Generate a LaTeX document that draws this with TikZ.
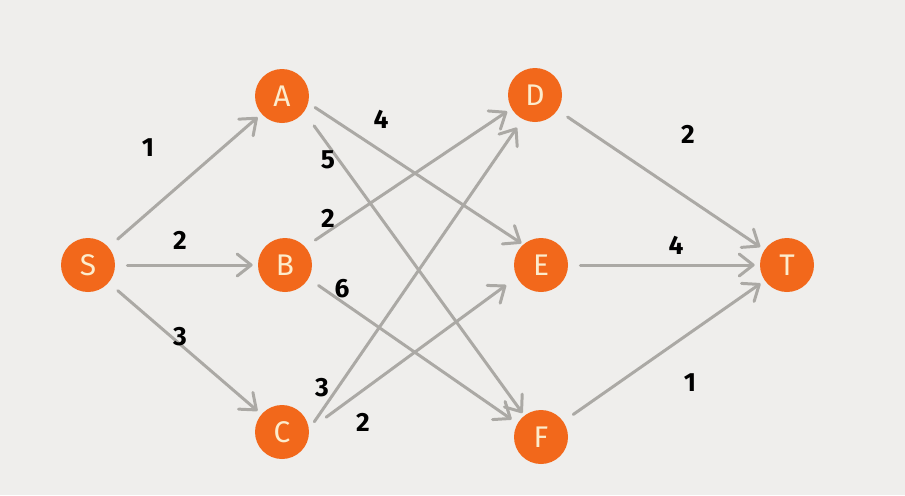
\documentclass[tikz,border=0pt]{standalone}
\usepackage{fontspec}
\setmainfont{Fira Sans}
\usetikzlibrary{arrows.meta}

\definecolor{bgpaper}{RGB}{239,238,236}
\definecolor{nodeorange}{RGB}{242,104,27}
\definecolor{nodecream}{RGB}{252,236,205}
\definecolor{edgegray}{RGB}{171,169,165}

\begin{document}
\begin{tikzpicture}[x=0.02cm, y=-0.02cm,
    vertex/.style={circle, fill=nodeorange, minimum size=1.08cm, inner sep=0pt,
      text=nodecream, font=\fontsize{17}{17}\selectfont},
    flow/.style={draw=edgegray, line width=1.7pt, line cap=round,
      -{Straight Barb[length=2.8mm, width=4.4mm, round]},
      shorten <=0.24cm, shorten >=0.1cm},
    weight/.style={font=\bfseries\fontsize{15}{15}\selectfont}]
                % Paper:
                \fill[bgpaper] (0, 0) rectangle (905, 495);
                % Vertices:
                \node[vertex] (S) at (88, 265) {S};
                \node[vertex] (A) at (282, 96) {A};
                \node[vertex] (B) at (285, 265) {B};
                \node[vertex] (C) at (282, 432) {C};
                \node[vertex] (D) at (535, 95) {D};
                \node[vertex] (E) at (541, 265) {E};
                \node[vertex] (F) at (541, 437) {F};
                \node[vertex] (T) at (787, 265) {T};
                % Flows:
                \draw[flow] (S) -- (A);
                \draw[flow] (S) -- (B);
                \draw[flow] (S) -- (C);
                \draw[flow, shorten <=0.16cm, shorten >=0.04cm] (A.-15) -- (E.131);
                \draw[flow, shorten <=0.34cm, shorten >=0.06cm] (A.-36) -- (F.128);
                \draw[flow] (B.42) -- (D.210);
                \draw[flow, shorten >=0.14cm] (B.-30) -- (F.150);
                \draw[flow, shorten <=0.18cm, shorten >=0.2cm] (C.6) -- (D.243);
                \draw[flow, shorten <=0.42cm, shorten >=0.26cm] (C.5) -- (E.207);
                \draw[flow] (D) -- (T);
                \draw[flow] (E) -- (T);
                \draw[flow] (F) -- (T);
                % Weights:
                \node[weight] (wSA) at (148, 148) {1};
                \node[weight] (wSB) at (180, 240) {2};
                \node[weight] (wSC) at (180, 337) {3};
                \node[weight] (wAE) at (381, 119) {4};
                \node[weight] (wAF) at (328, 160) {5};
                \node[weight] (wBD) at (328, 218) {2};
                \node[weight] (wBF) at (342, 289) {6};
                \node[weight] (wCD) at (322, 388) {3};
                \node[weight] (wCE) at (363, 422) {2};
                \node[weight] (wDT) at (688, 134) {2};
                \node[weight] (wET) at (676, 245) {4};
                \node[weight] (wFT) at (690, 383) {1};
            \end{tikzpicture}
\end{document}
